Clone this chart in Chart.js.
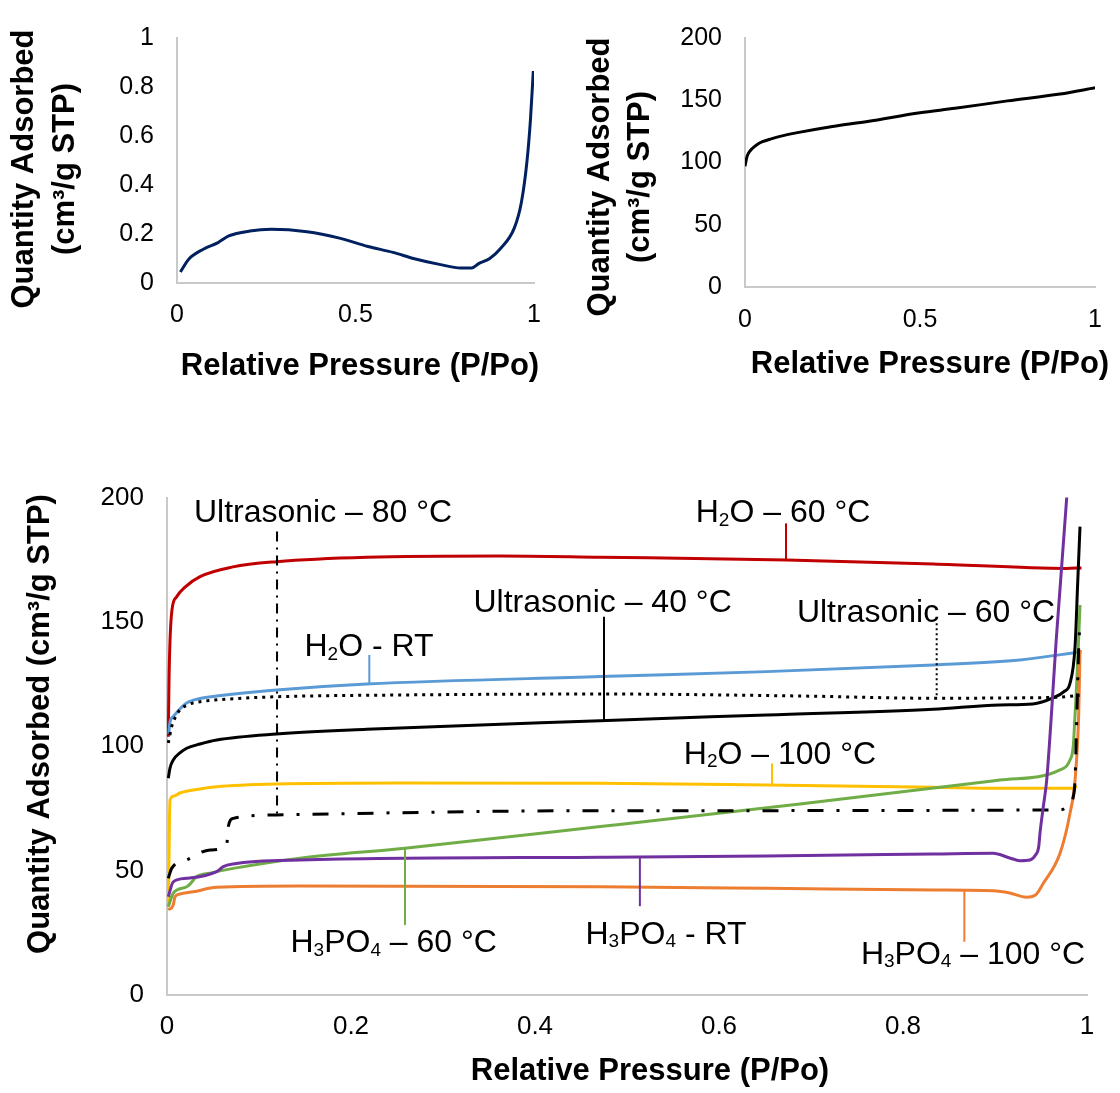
<!DOCTYPE html>
<html>
<head>
<meta charset="utf-8">
<title>N2 adsorption isotherms</title>
<script src="https://cdn.jsdelivr.net/npm/chart.js@4.4.1/dist/chart.umd.min.js"></script>
<style>
  html, body { margin: 0; padding: 0; background: #fff; }
  body { width: 1120px; height: 1093px; position: relative; overflow: hidden; }
  canvas { position: absolute; display: block; }
</style>
</head>
<body>
<canvas id="blankChart" width="560" height="400" style="left:0;top:0"></canvas>
<canvas id="refChart" width="560" height="400" style="left:560px;top:0"></canvas>
<canvas id="mainChart" width="1120" height="653" style="left:0;top:440px"></canvas>
<script>
/* ============================================
   DATA
   ============================================ */

// Top left isotherm
const pBlank = [0.0095, 0.034, 0.075, 0.115, 0.145, 0.204, 0.264, 0.364, 0.455, 0.535, 0.605, 0.665, 0.735, 0.795, 0.825, 0.845, 0.875, 0.905, 0.945, 0.965, 0.98, 0.99, 0.998];
const qBlank = [0.045, 0.099, 0.139, 0.165, 0.192, 0.212, 0.219, 0.209, 0.183, 0.149, 0.125, 0.099, 0.076, 0.061, 0.061, 0.079, 0.099, 0.139, 0.225, 0.332, 0.492, 0.665, 0.865];

// Top right isotherm
const pRef = [0, 0.005, 0.01, 0.02, 0.035, 0.05, 0.075, 0.1, 0.15, 0.25, 0.35, 0.5, 0.6, 0.75, 0.9, 1.0];
const qRef = [97, 104, 107.5, 111, 114.5, 116.7, 119, 121, 124, 129, 133, 140, 143.5, 149.5, 155, 160];

// Bottom chart
const pH2o60 = [0.0014, 0.0022, 0.0033, 0.0054, 0.0105, 0.0196, 0.0359, 0.0717, 0.119, 0.217, 0.362, 0.471, 0.674, 0.833, 0.978, 0.994];
const qH2o60 = [103.8, 126.6, 142.7, 154.8, 160.1, 164, 168.2, 172.1, 174.2, 176, 176.5, 176, 174.9, 173.3, 171.5, 171.7];

const pH2oRt = [0.002, 0.0033, 0.0068, 0.014, 0.0214, 0.0359, 0.054, 0.119, 0.217, 0.471, 0.652, 0.833, 0.927, 0.994];
const qH2oRt = [105, 109.7, 111.9, 115, 117.4, 119.2, 120.2, 122.6, 125, 128, 130, 132.7, 134.7, 138];

const pUs60 = [0.0014, 0.0051, 0.0087, 0.014, 0.025, 0.036, 0.068, 0.119, 0.253, 0.471, 0.688, 0.833, 0.905, 0.971, 0.992];
const qUs60 = [101.3, 107.9, 111.4, 114.6, 117, 117.9, 119, 119.9, 120.6, 121, 120.2, 119.3, 119.4, 119.8, 120.5];

const pUs40 = [0.0014, 0.0033, 0.0068, 0.014, 0.0214, 0.0359, 0.054, 0.119, 0.217, 0.471, 0.652, 0.833, 0.905, 0.941, 0.963, 0.975, 0.9815, 0.987, 0.99, 0.9924];
const qUs40 = [87.1, 91.3, 94.5, 97.3, 99.2, 100.9, 102.5, 104.9, 106.8, 110.3, 112.6, 114.9, 116.6, 117, 119.4, 122, 125.3, 140, 166.8, 188.3];

const pH2o100 = [0.0014, 0.0022, 0.0027, 0.0033, 0.0076, 0.014, 0.036, 0.054, 0.119, 0.253, 0.471, 0.652, 0.833, 0.905, 0.985, 0.989];
const qH2o100 = [35.5, 54.3, 70.4, 78.4, 80, 81.2, 82.8, 83.7, 84.8, 85.2, 85.1, 84.4, 83.5, 83.1, 83.1, 84];

const pUs80 = [0.0014, 0.0051, 0.0214, 0.0467, 0.0649, 0.0666, 0.072, 0.119, 0.471, 0.971, 0.9815, 0.985, 0.987, 0.989, 0.991, 0.9924];
const qUs80 = [46.9, 50.9, 54.3, 58.3, 60.3, 67.7, 71, 72.4, 74.1, 74.4, 77.1, 79.6, 86.4, 113.2, 140, 149.4];

const pAcid60 = [0.0014, 0.0068, 0.0214, 0.025, 0.0323, 0.0467, 0.072, 0.1446, 0.2587, 0.471, 0.688, 0.905, 0.9707, 0.9815, 0.985, 0.987, 0.989, 0.9924];
const qAcid60 = [35.5, 40.9, 43.5, 44.6, 47.6, 49, 50.9, 55, 59, 67.7, 76.8, 86.4, 90.5, 94.5, 99.8, 112.6, 126.6, 156.8];

const pAcidRt = [0.0014, 0.0068, 0.0214, 0.054, 0.0612, 0.072, 0.1446, 0.471, 0.652, 0.833, 0.898, 0.916, 0.927, 0.938, 0.944, 0.9475, 0.9489, 0.9525, 0.9562, 0.967, 0.978, 0.9793];
const qAcidRt = [39.5, 45.5, 46.9, 49.6, 51.6, 52.7, 54.3, 55.4, 55.9, 56.7, 57, 55.1, 54, 54.3, 56.3, 59.6, 65.1, 75.7, 86.4, 145.1, 200.2, 207.8];

const pAcid100 = [0.0014, 0.0068, 0.0087, 0.014, 0.0286, 0.054, 0.1446, 0.471, 0.652, 0.833, 0.898, 0.916, 0.934, 0.944, 0.9525, 0.9707, 0.9815, 0.987, 0.991, 0.9924];
const qAcid100 = [34.2, 36.2, 39.5, 40.6, 41.5, 43.3, 43.8, 43.5, 42.9, 42.2, 41.9, 41, 39.3, 40.2, 44.9, 57, 73, 86.4, 113.2, 138.7];

// Axis ticks
const xTicksSmall = [0, 0.5, 1];
const xTicksMain = [0, 0.2, 0.4, 0.6, 0.8, 1];
const yTicksBlank = [0, 0.2, 0.4, 0.6, 0.8, 1];
const yTicksQty = [0, 50, 100, 150, 200];

// Series labels ("_n" = subscript digit)
const seriesNames = {
  h2o60: 'H_2O – 60 °C',
  h2oRt: 'H_2O - RT',
  us40: 'Ultrasonic – 40 °C',
  us60: 'Ultrasonic – 60 °C',
  us80: 'Ultrasonic – 80 °C',
  h2o100: 'H_2O – 100 °C',
  acid60: 'H_3PO_4 – 60 °C',
  acidRt: 'H_3PO_4 - RT',
  acid100: 'H_3PO_4 – 100 °C',
};

/* ============================================
   HELPERS
   ============================================ */

const FONT = '"Liberation Sans", Arial, Helvetica, sans-serif';
const AXIS_GREY = '#C9C9C9';
const X_TITLE = 'Relative Pressure (P/Po)';
const Y_TITLE = ['Quantity Adsorbed', '(cm³/g STP)'];

function zip(xs, ys) {
  return xs.map((x, i) => ({ x: x, y: ys[i] }));
}

function series(xs, ys, color, dash) {
  return {
    data: zip(xs, ys),
    borderColor: color,
    borderWidth: 3,
    borderDash: dash || [],
    borderJoinStyle: 'round',
    pointRadius: 0,
    fill: false,
    cubicInterpolationMode: 'monotone',
  };
}

function fmtTick(v) {
  return String(+v.toFixed(2));
}

/**
 * Draw text with "_n" subscripts, centred on (cx, cy) = cap centre
 */
function drawRichText(ctx, text, cx, cy, size) {
  const parts = text.split(/_(\d)/);
  const subSize = Math.round(size * 0.6);
  const pieces = parts.map((t, i) => ({ t: t, sub: i % 2 === 1 }));
  let total = 0;
  pieces.forEach(p => {
    ctx.font = `${p.sub ? subSize : size}px ${FONT}`;
    p.w = ctx.measureText(p.t).width;
    total += p.w;
  });
  const base = cy + size * 0.358;
  let x = cx - total / 2;
  ctx.textAlign = 'left';
  ctx.textBaseline = 'alphabetic';
  pieces.forEach(p => {
    ctx.font = `${p.sub ? subSize : size}px ${FONT}`;
    ctx.fillText(p.t, x, p.sub ? base + size * 0.11 : base);
    x += p.w;
  });
}

/* ============================================
   PLUGINS
   ============================================ */

// Axis titles placed like the original figure
const axisTitlePlugin = {
  id: 'axisTitles',
  afterDraw(chart, args, opts) {
    const ctx = chart.ctx;
    (opts.items || []).forEach(t => {
      ctx.save();
      ctx.font = `bold ${t.size}px ${FONT}`;
      ctx.fillStyle = '#000';
      ctx.textAlign = 'center';
      ctx.textBaseline = 'middle';
      ctx.translate(t.cx, t.cy);
      if (t.vertical) ctx.rotate(-Math.PI / 2);
      t.lines.forEach((line, i) => ctx.fillText(line, 0, i * (t.gap || 0)));
      ctx.restore();
    });
  }
};

// Series labels with leader lines, positioned in data units
const calloutPlugin = {
  id: 'callouts',
  afterDatasetsDraw(chart, args, opts) {
    const { ctx, scales } = chart;
    const xs = scales.x, ys = scales.y;
    (opts.items || []).forEach(c => {
      const lx = xs.getPixelForValue(c.at);
      ctx.save();
      ctx.strokeStyle = c.color;
      ctx.lineWidth = 2;
      ctx.setLineDash(c.dash || []);
      ctx.beginPath();
      ctx.moveTo(lx, ys.getPixelForValue(c.from));
      ctx.lineTo(lx, ys.getPixelForValue(c.to));
      ctx.stroke();
      ctx.restore();

      ctx.save();
      ctx.fillStyle = '#000';
      drawRichText(ctx, c.text, xs.getPixelForValue(c.lx), ys.getPixelForValue(c.ly), opts.size);
      ctx.restore();
    });
  }
};

/* ============================================
   CHART FACTORY
   ============================================ */

function makeChart(id, cfg) {
  const tickFont = { family: FONT, size: cfg.tickSize };
  return new Chart(document.getElementById(id), {
    type: 'line',
    data: { datasets: cfg.datasets },
    options: {
      responsive: false,
      animation: false,
      events: [],
      layout: { padding: { left: 0, top: cfg.top, right: cfg.right, bottom: 0 } },
      plugins: {
        legend: { display: false },
        tooltip: { enabled: false },
        axisTitles: { items: cfg.titles },
        callouts: { items: cfg.callouts || [], size: 32 },
      },
      scales: {
        x: {
          type: 'linear',
          min: 0,
          max: 1,
          afterBuildTicks: s => { s.ticks = cfg.xTicks.map(v => ({ value: v })); },
          afterFit: s => { s.height = cfg.xHeight; },
          grid: { display: false, drawTicks: false },
          border: { color: AXIS_GREY, width: 2 },
          ticks: { padding: cfg.xPad, font: tickFont, color: '#000', maxRotation: 0, autoSkip: false, callback: fmtTick },
        },
        y: {
          type: 'linear',
          min: 0,
          max: cfg.yMax,
          afterBuildTicks: s => { s.ticks = cfg.yTicks.map(v => ({ value: v })); },
          afterFit: s => { s.width = cfg.yWidth; },
          grid: { display: false, drawTicks: false },
          border: { color: AXIS_GREY, width: 2 },
          ticks: { padding: 23, font: tickFont, color: '#000', autoSkip: false, callback: fmtTick },
        }
      }
    },
    plugins: [axisTitlePlugin, calloutPlugin]
  });
}

/* ============================================
   RENDER
   ============================================ */

makeChart('blankChart', {
  datasets: [series(pBlank, qBlank, '#002060')],
  xTicks: xTicksSmall, yTicks: yTicksBlank, yMax: 1,
  tickSize: 25, top: 33, right: 26, yWidth: 177, xHeight: 117, xPad: 17,
  titles: [
    { lines: Y_TITLE, size: 31, cx: 24, cy: 169, gap: 41, vertical: true },
    { lines: [X_TITLE], size: 31, cx: 360, cy: 366 },
  ],
});

makeChart('refChart', {
  datasets: [series(pRef, qRef, '#000000')],
  xTicks: xTicksSmall, yTicks: yTicksQty, yMax: 200,
  tickSize: 25, top: 23, right: 8, yWidth: 185, xHeight: 113, xPad: 18,
  titles: [
    { lines: Y_TITLE, size: 31, cx: 40, cy: 177, gap: 40, vertical: true },
    { lines: [X_TITLE], size: 31, cx: 370, cy: 364 },
  ],
});

makeChart('mainChart', {
  datasets: [
    series(pAcidRt, qAcidRt, '#7030A0'),
    series(pUs40, qUs40, '#000000'),
    series(pUs80, qUs80, '#000000', [16, 13, 3, 13]),
    series(pUs60, qUs60, '#000000', [3, 5]),
    series(pAcid100, qAcid100, '#ED7D31'),
    series(pAcid60, qAcid60, '#70AD47'),
    series(pH2o100, qH2o100, '#FFC000'),
    series(pH2oRt, qH2oRt, '#5B9BD5'),
    series(pH2o60, qH2o60, '#C00000'),
  ],
  xTicks: xTicksMain, yTicks: yTicksQty, yMax: 200,
  tickSize: 26, top: 57.5, right: 33, yWidth: 167, xHeight: 98, xPad: 16,
  titles: [
    { lines: [Y_TITLE.join(' ')], size: 31, cx: 40, cy: 284, vertical: true },
    { lines: [X_TITLE], size: 31, cx: 650, cy: 631 },
  ],
  callouts: [
    { text: seriesNames.us80, lx: 0.1696, ly: 194.6, at: 0.1196, from: 186.3, to: 72.5, color: '#000000', dash: [10, 6, 2, 6] },
    { text: seriesNames.h2o60, lx: 0.6696, ly: 194.7, at: 0.6728, from: 189.6, to: 174.9, color: '#C00000' },
    { text: seriesNames.us40, lx: 0.4735, ly: 158.5, at: 0.475, from: 152.1, to: 110.3, color: '#000000' },
    { text: seriesNames.us60, lx: 0.825, ly: 154.5, at: 0.8366, from: 149.4, to: 119.3, color: '#000000', dash: [2, 3] },
    { text: seriesNames.h2oRt, lx: 0.2196, ly: 140.8, at: 0.2199, from: 136.7, to: 125, color: '#5B9BD5' },
    { text: seriesNames.h2o100, lx: 0.6663, ly: 97.6, at: 0.6576, from: 93.1, to: 84.4, color: '#FFC000' },
    { text: seriesNames.acid60, lx: 0.2464, ly: 21.8, at: 0.2587, from: 59, to: 28.1, color: '#70AD47' },
    { text: seriesNames.acidRt, lx: 0.5424, ly: 25.2, at: 0.514, from: 55.5, to: 35.7, color: '#7030A0' },
    { text: seriesNames.acid100, lx: 0.8761, ly: 17.2, at: 0.8667, from: 42.1, to: 21.4, color: '#ED7D31' },
  ],
});
</script>
</body>
</html>
